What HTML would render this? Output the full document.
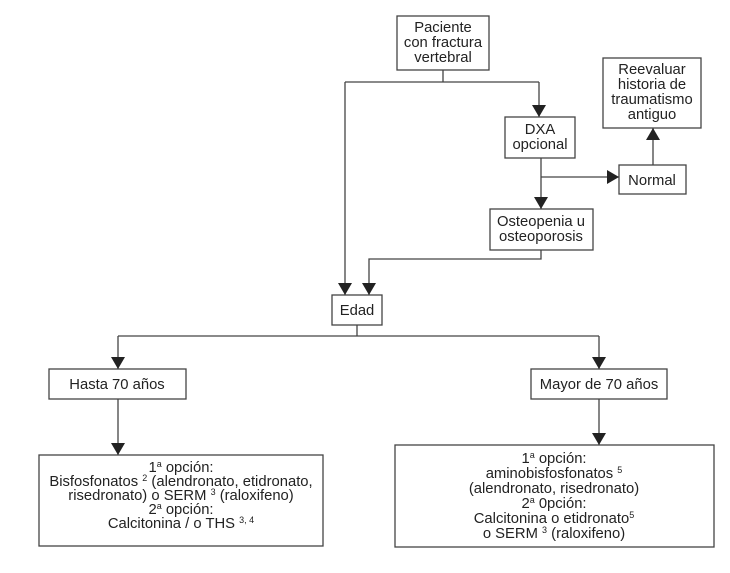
<!DOCTYPE html>
<html><head><meta charset="utf-8"><style>
html,body{margin:0;padding:0;background:#fff;}
svg text{font-family:"Liberation Sans",sans-serif;font-size:14.8px;fill:#222;text-anchor:middle;}
</style></head><body>
<svg width="730" height="568" viewBox="0 0 730 568" xmlns="http://www.w3.org/2000/svg">
<defs><marker id="a" markerWidth="12" markerHeight="14" refX="12" refY="7" orient="auto" markerUnits="userSpaceOnUse"><path d="M0,0 L12,7 L0,14 Z" fill="#222"/></marker></defs>
<g fill="none" stroke="#444" stroke-width="1.3">
<rect x="397" y="16" width="92" height="54"/>
<rect x="505" y="117" width="70" height="41"/>
<rect x="619" y="165" width="67" height="29"/>
<rect x="603" y="58" width="98" height="70"/>
<rect x="490" y="209" width="103" height="41"/>
<rect x="332" y="295" width="50" height="30"/>
<rect x="49" y="369" width="137" height="30"/>
<rect x="531" y="369" width="136" height="30"/>
<rect x="39" y="455" width="284" height="91"/>
<rect x="395" y="445" width="319" height="102"/>
<path d="M443 70V82M345 82H539"/>
<path d="M539 82V117" marker-end="url(#a)"/>
<path d="M345 82V295" marker-end="url(#a)"/>
<path d="M541 158V209" marker-end="url(#a)"/>
<path d="M541 177H619" marker-end="url(#a)"/>
<path d="M653 165V128" marker-end="url(#a)"/>
<path d="M541 250V259H369V295" marker-end="url(#a)"/>
<path d="M357 325V336M118 336H599"/>
<path d="M118 336V369" marker-end="url(#a)"/>
<path d="M599 336V369" marker-end="url(#a)"/>
<path d="M118 399V455" marker-end="url(#a)"/>
<path d="M599 399V445" marker-end="url(#a)"/>
</g>
<text x="443" y="32">Paciente</text>
<text x="443" y="47">con fractura</text>
<text x="443" y="62">vertebral</text>
<text x="540" y="134">DXA</text>
<text x="540" y="149">opcional</text>
<text x="652" y="185">Normal</text>
<text x="652" y="74">Reevaluar</text>
<text x="652" y="89">historia de</text>
<text x="652" y="104">traumatismo</text>
<text x="652" y="119">antiguo</text>
<text x="541" y="226">Osteopenia u</text>
<text x="541" y="241">osteoporosis</text>
<text x="357" y="315">Edad</text>
<text x="117" y="389">Hasta 70 años</text>
<text x="599" y="389">Mayor de 70 años</text>
<text x="181" y="472">1<tspan font-size="9" dy="-5">a</tspan><tspan dy="5"> opción:</tspan></text>
<text x="181" y="486">Bisfosfonatos <tspan font-size="9" dy="-5">2</tspan><tspan dy="5"> (alendronato, etidronato,</tspan></text>
<text x="181" y="500">risedronato) o SERM <tspan font-size="9" dy="-5">3</tspan><tspan dy="5"> (raloxifeno)</tspan></text>
<text x="181" y="514">2<tspan font-size="9" dy="-5">a</tspan><tspan dy="5"> opción:</tspan></text>
<text x="181" y="528">Calcitonina / o THS <tspan font-size="9" dy="-5">3, 4</tspan></text>
<text x="554" y="463">1<tspan font-size="9" dy="-5">a</tspan><tspan dy="5"> opción:</tspan></text>
<text x="554" y="478">aminobisfosfonatos <tspan font-size="9" dy="-5">5</tspan></text>
<text x="554" y="493">(alendronato, risedronato)</text>
<text x="554" y="508">2<tspan font-size="9" dy="-5">a</tspan><tspan dy="5"> 0pción:</tspan></text>
<text x="554" y="523">Calcitonina o etidronato<tspan font-size="9" dy="-5">5</tspan></text>
<text x="554" y="538">o SERM <tspan font-size="9" dy="-5">3</tspan><tspan dy="5"> (raloxifeno)</tspan></text>
</svg>
</body></html>
